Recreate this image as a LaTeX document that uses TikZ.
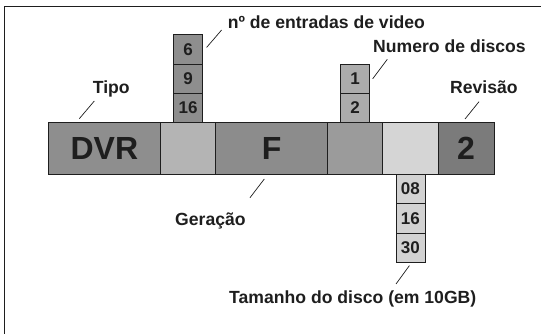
\documentclass[tikz,border=0pt]{standalone}
\usepackage{fontspec}
\setmainfont{Liberation Sans}
\usepackage{tikz}
\usetikzlibrary{positioning}

\definecolor{gdvr}{HTML}{8E8E8E}
\definecolor{gcam}{HTML}{B4B4B4}
\definecolor{ggen}{HTML}{8C8C8C}
\definecolor{gdsc}{HTML}{9B9B9B}
\definecolor{gtam}{HTML}{D5D5D5}
\definecolor{grev}{HTML}{7B7B7B}
\definecolor{gvid}{HTML}{8E8E8E}
\definecolor{gnum}{HTML}{ACACAC}
\definecolor{gsiz}{HTML}{D2D2D2}
\definecolor{ink}{HTML}{1E1E1E}

\begin{document}
\begin{tikzpicture}[x=1pt, y=-1pt,
  seg/.style={draw=ink, line width=0.8pt, minimum height=51.6pt, inner sep=0pt, outer sep=0pt,
    text=ink, font=\bfseries\fontsize{32}{32}\selectfont},
  cell/.style={draw=ink, line width=0.8pt, minimum width=29pt, minimum height=29.3pt, inner sep=0pt,
    outer sep=0pt, text=ink, font=\bfseries\fontsize{17}{17}\selectfont},
  lbl/.style={anchor=base west, inner sep=0pt, text=ink, font=\bfseries\fontsize{17.6}{17.6}\selectfont},
  leader/.style={draw=ink, line width=0.7pt}]
  \useasboundingbox (0,0) rectangle (541,334);
  \draw[ink, line width=1.2pt] (541,6.5) -- (4.7,6.5) -- (4.7,334);

  % the code bar
  \node[seg, minimum width=112.2pt, fill=gdvr] (dvr) at (104.4,148.5) {DVR};
  \node[seg, minimum width=55.2pt, fill=gcam, right=0pt of dvr] (cam) {};
  \node[seg, minimum width=111.9pt, fill=ggen, right=0pt of cam] (gen) {F};
  \node[seg, minimum width=55.2pt, fill=gdsc, right=0pt of gen] (dsc) {};
  \node[seg, minimum width=55.2pt, fill=gtam, right=0pt of dsc] (tam) {};
  \node[seg, minimum width=56pt, fill=grev, right=0pt of tam] (rev) {2};

  % options
  \node[cell, fill=gvid, above=0pt of cam] (v16) {16};
  \node[cell, fill=gvid, above=0pt of v16] (v9) {9};
  \node[cell, fill=gvid, above=0pt of v9] (v6) {6};
  \node[cell, fill=gnum, above=0pt of dsc] (d2) {2};
  \node[cell, fill=gnum, above=0pt of d2] (d1) {1};
  \node[cell, fill=gsiz, below=0pt of tam] (s08) {08};
  \node[cell, fill=gsiz, below=0pt of s08] (s16) {16};
  \node[cell, fill=gsiz, below=0pt of s16] (s30) {30};

  % labels
  \node[lbl] (tipo) at (92.7,94) {Tipo};
  \node[lbl] (entr) at (227.6,29) {nº de entradas de video};
  \node[lbl] (ndsc) at (373,52.7) {Numero de discos};
  \node[lbl] (revl) at (450,94) {Revisão};
  \node[lbl] (gerl) at (175,225) {Geração};
  \node[lbl] (taml) at (229,303) {Tamanho do disco (em 10GB)};

  \draw[leader] ([shift={(31,-4)}]dvr.north west) -- ([shift={(1.6,7)}]tipo.base west);
  \draw[leader] ([shift={(4,-2)}]v6.east) -- ([shift={(-6,1)}]entr.base west);
  \draw[leader] ([shift={(3,0)}]d1.east) -- ([shift={(14.3,6.6)}]ndsc.base west);
  \draw[leader] ([shift={(27,-3.7)}]rev.north west) -- ([shift={(29,7.7)}]revl.base west);
  \draw[leader] ([shift={(48.6,4.7)}]gen.south west) -- ([shift={(75,-27.3)}]gerl.base west);
  \draw[leader] ([shift={(-1,3.4)}]s30.south) -- ([shift={(167,-19)}]taml.base west);
\end{tikzpicture}
\end{document}
